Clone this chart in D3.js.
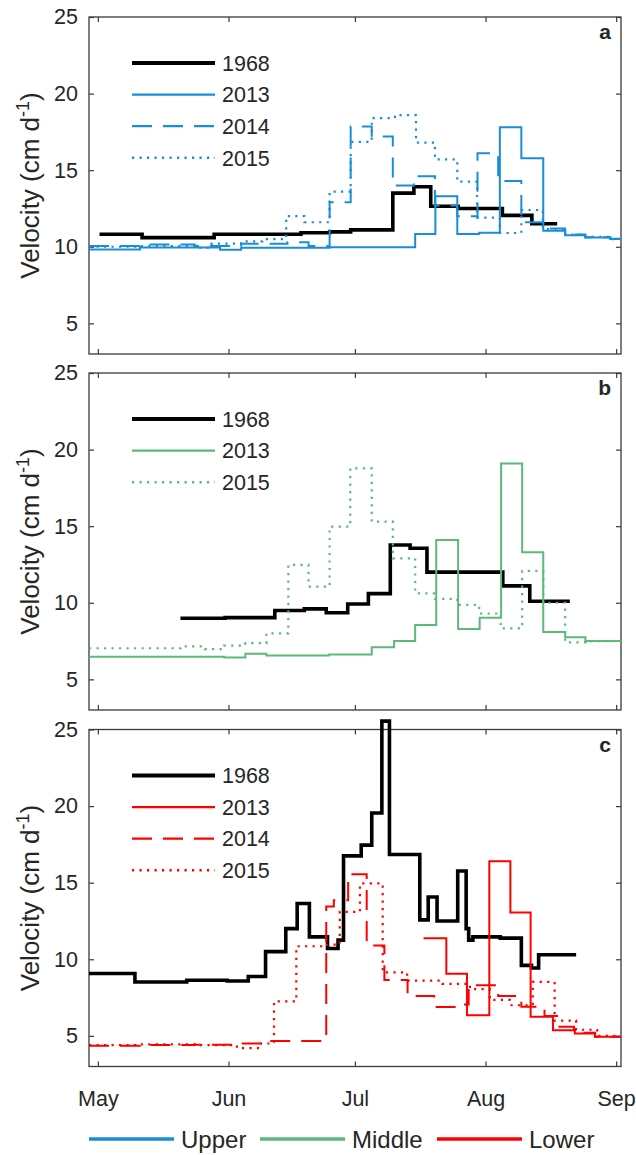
<!DOCTYPE html>
<html>
<head>
<meta charset="utf-8">
<script src="https://cdn.jsdelivr.net/npm/d3@7"></script>
<style>
  html, body { margin: 0; padding: 0; background: #ffffff; }
  svg { display: block; }
  text { font-family: "Liberation Sans", Arial, Helvetica, sans-serif; fill: #262626; }
</style>
</head>
<body>
<svg id="chart" width="636" height="1155"></svg>
<script>
// ---------------- data ----------------
const monthLabels = ["May", "Jun", "Jul", "Aug", "Sep"];
const yTickValues = [5, 10, 15, 20, 25];
const panelLetters = ["a", "b", "c"];
const zoneNames = ["Upper", "Middle", "Lower"];
const yearNames = ["1968", "2013", "2014", "2015"];

// step series: days since 1 May at which each step starts (last entry = end of last step), velocity in cm/d
// Upper (panel a)
const upper1968Days = [0.4, 10.5, 27.6, 48.2, 55, 60, 70, 75, 79, 85.5, 96, 103, 109];
const upper1968Vel  = [10.82, 10.6, 10.82, 10.92, 10.97, 11.1, 13.5, 13.92, 12.65, 12.5, 12.05, 11.5];
const upper2013Days = [-2.1, 10, 29, 34, 55, 75.3, 80.1, 85.3, 90.5, 95.4, 100.5, 105.7, 110.9, 115.7, 121.6, 124.15];
const upper2013Vel  = [9.83, 9.95, 9.8, 9.93, 9.97, 10.84, 13.3, 10.84, 10.92, 17.8, 15.78, 11.05, 10.75, 10.6, 10.52];
const upper2014Days = [-2.1, 10, 23, 34, 45, 50, 55, 60, 65, 70, 75, 80, 85.3, 90.1, 95, 100.5, 105.7, 110.9, 115.7, 121.6, 124.15];
const upper2014Vel  = [10.05, 10.15, 10.05, 10.2, 10.3, 10.05, 12.9, 17.85, 17.2, 14.0, 14.6, 12.7, 12.0, 16.1, 14.3, 11.6, 11.2, 10.8, 10.62, 10.5];
const upper2015Days = [-2.1, 10, 23, 27, 34, 39, 44.7, 49, 55, 60, 65, 70.5, 75.5, 80, 85.3, 90, 95.4, 100.5, 105.6, 110.9, 115.7, 121.6, 124.15];
const upper2015Vel  = [10.0, 10.05, 9.95, 10.2, 10.35, 10.5, 12.0, 11.6, 13.6, 16.85, 18.4, 18.6, 16.8, 15.7, 14.25, 11.9, 10.9, 12.4, 11.15, 10.8, 10.65, 10.5];

// Middle (panel b)
const middle1968Days = [19.6, 30.2, 42, 49, 54.2, 59.3, 64.2, 69.4, 74.1, 78.1, 96.1, 102.5, 112];
const middle1968Vel  = [8.99, 9.03, 9.5, 9.6, 9.35, 9.92, 10.6, 13.77, 13.56, 12.0, 11.1, 10.1];
const middle2013Days = [-2.1, 30, 35, 40, 54.8, 65, 70.3, 75.3, 80.3, 85.5, 90.6, 95.7, 100.7, 105.7, 110.9, 115.7, 124.15];
const middle2013Vel  = [6.48, 6.42, 6.68, 6.55, 6.62, 7.1, 7.5, 8.55, 14.1, 8.29, 9.03, 19.1, 13.3, 8.1, 7.75, 7.5];
const middle2015Days = [-2.1, 19.6, 25.4, 30, 35, 40, 45.2, 50, 55, 59.9, 65, 70, 75.3, 80, 85.3, 90.5, 95.6, 100.7, 105.7, 110.9, 115.7, 124.15];
const middle2015Vel  = [7.03, 7.15, 6.98, 7.2, 7.36, 8.0, 12.47, 11.05, 14.97, 18.78, 15.3, 12.9, 10.62, 10.25, 9.86, 9.3, 8.33, 12.08, 10.0, 7.42, 7.5];

// Lower (panel c)
const lower1968Days = [-2.1, 8.8, 21.1, 30.7, 35.7, 39.8, 44.6, 47.3, 50.2, 54.5, 57, 58.3, 62.5, 65, 67.4, 69.2, 76.4, 78.4, 80.5, 85.4, 87.4, 88, 89, 95.5, 100.5, 102.9, 104.6, 113.5];
const lower1968Vel  = [9.07, 8.52, 8.63, 8.58, 8.88, 10.5, 12.0, 13.64, 11.46, 10.7, 11.25, 16.75, 17.45, 19.55, 25.55, 16.84, 12.57, 14.07, 12.5, 15.76, 12.0, 11.25, 11.46, 11.38, 9.6, 9.43, 10.3];
const lower2013Days = [77.3, 82.7, 87.6, 92.9, 97.9, 102.7, 108, 113.2, 118, 124.15];
const lower2013Vel  = [11.38, 9.05, 6.34, 16.4, 13.05, 6.25, 5.36, 5.15, 4.95];
const lower2014Days = [-2.1, 10, 23, 33, 40.5, 54.2, 56, 59.4, 63.8, 68, 73.5, 79.8, 85.4, 88, 95, 100.5, 106, 109, 113, 118, 124.15];
const lower2014Vel  = [4.35, 4.4, 4.42, 4.5, 4.66, 13.45, 13.86, 15.55, 10.9, 8.65, 7.6, 6.88, 7.05, 8.3, 7.6, 6.9, 6.3, 5.6, 5.2, 4.95];
const lower2015Days = [-2.1, 10, 23, 33, 38, 41.8, 47.1, 53, 57.4, 62.2, 67.6, 73.4, 81.8, 88.3, 93, 97.8, 103.2, 108.4, 113.5, 118.5, 124.15];
const lower2015Vel  = [4.4, 4.45, 4.4, 4.2, 4.5, 7.25, 10.85, 10.95, 13.1, 14.95, 9.15, 8.6, 8.4, 8.05, 7.35, 7.0, 8.52, 6.0, 5.4, 5.0];

// ---------------- styling / layout ----------------
const zoneColors = ["#1a8dd8", "#5cb97b", "#ff0000"];
const W = 636, H = 1155;
const left = 89, right = 621;
const panelTops = [17, 373, 729.5];
const panelH = 337;
const axisColor = "#3a3a3a";

const panels = [
  { series: [
      { year: "1968", days: upper1968Days, vel: upper1968Vel },
      { year: "2013", days: upper2013Days, vel: upper2013Vel },
      { year: "2014", days: upper2014Days, vel: upper2014Vel },
      { year: "2015", days: upper2015Days, vel: upper2015Vel } ] },
  { series: [
      { year: "1968", days: middle1968Days, vel: middle1968Vel },
      { year: "2013", days: middle2013Days, vel: middle2013Vel },
      { year: "2015", days: middle2015Days, vel: middle2015Vel } ] },
  { series: [
      { year: "1968", days: lower1968Days, vel: lower1968Vel },
      { year: "2013", days: lower2013Days, vel: lower2013Vel },
      { year: "2014", days: lower2014Days, vel: lower2014Vel },
      { year: "2015", days: lower2015Days, vel: lower2015Vel } ] }
];

function yearStyle(year, color) {
  if (year === "1968") return { stroke: "#000000", width: 3.6, dash: null, legendWidth: 4.2 };
  if (year === "2013") return { stroke: color, width: 2, dash: null, legendWidth: 2.2 };
  if (year === "2014") return { stroke: color, width: 2, dash: "20,11", legendWidth: 2.2 };
  return { stroke: color, width: 2.2, dash: "2.2,5.3", legendWidth: 2.4 };
}

const base = Date.UTC(2001, 4, 1);
const dayMs = 864e5;
const toDate = d => new Date(base + d * dayMs);

const x = d3.scaleUtc()
  .domain([toDate(-2.1), toDate(124.15)])
  .range([left, right]);
const monthTicks = monthLabels.map((m, i) => new Date(Date.UTC(2001, 4 + i, 1)));

const svg = d3.select("#chart");
svg.append("rect").attr("width", W).attr("height", H).attr("fill", "#fff");

panels.forEach((p, pi) => {
  const top = panelTops[pi];
  const bottom = top + panelH;
  const y = d3.scaleLinear().domain([3, 25]).range([bottom, top]);
  const g = svg.append("g");
  const color = zoneColors[pi];

  // axes (ticks inward)
  const axL = g.append("g").attr("transform", `translate(${left},0)`)
    .call(d3.axisLeft(y).tickValues(yTickValues).tickSize(-5).tickSizeOuter(0).tickPadding(11));
  const axR = g.append("g").attr("transform", `translate(${right},0)`)
    .call(d3.axisRight(y).tickValues(yTickValues).tickSize(-5).tickSizeOuter(0).tickFormat(""));
  const axT = g.append("g").attr("transform", `translate(0,${top})`)
    .call(d3.axisTop(x).tickValues(monthTicks).tickSize(-5).tickSizeOuter(0).tickFormat(""));
  const axB = g.append("g").attr("transform", `translate(0,${bottom})`)
    .call(d3.axisBottom(x).tickValues(monthTicks).tickSize(-5).tickSizeOuter(0).tickPadding(24)
      .tickFormat((d, i) => pi === 2 ? monthLabels[i] : ""));
  [axL, axR, axT, axB].forEach(a => {
    a.select(".domain").remove();
    a.selectAll("line").attr("stroke", axisColor).attr("stroke-width", 1.2);
    a.selectAll("text").attr("font-size", 21.5).attr("fill", "#262626")
      .attr("font-family", '"Liberation Sans", Arial, sans-serif');
  });

  // box
  g.append("rect").attr("x", left).attr("y", top).attr("width", right - left).attr("height", panelH)
    .attr("fill", "none").attr("stroke", axisColor).attr("stroke-width", 1.3);

  // series
  const line = d3.line().curve(d3.curveStepAfter).x(d => x(toDate(d[0]))).y(d => y(d[1]));
  p.series.forEach(s => {
    const pts = s.days.map((d, i) => [d, s.vel[Math.min(i, s.vel.length - 1)]]);
    const st = yearStyle(s.year, color);
    g.append("path").attr("d", line(pts)).attr("fill", "none")
      .attr("stroke", st.stroke).attr("stroke-width", st.width)
      .attr("stroke-dasharray", st.dash).attr("stroke-linejoin", "miter");
  });

  // panel legend
  p.series.forEach((s, i) => {
    const st = yearStyle(s.year, color);
    const ly = top + 46 + i * 31.6;
    g.append("line").attr("x1", 132).attr("x2", 215).attr("y1", ly).attr("y2", ly)
      .attr("stroke", st.stroke).attr("stroke-width", st.legendWidth)
      .attr("stroke-dasharray", st.dash);
    g.append("text").attr("x", 222).attr("y", ly).attr("dy", "0.36em")
      .attr("font-size", 21.5).text(s.year);
  });

  // panel letter
  g.append("text").attr("x", 611).attr("y", top + 22).attr("text-anchor", "end")
    .attr("font-size", 21).attr("font-weight", "bold").attr("fill", "#000").text(panelLetters[pi]);

  // y label
  const yl = g.append("text").attr("transform", `translate(39,${top + 168.5}) rotate(-90)`)
    .attr("text-anchor", "middle").attr("font-size", 26);
  yl.append("tspan").text("Velocity (cm d");
  yl.append("tspan").attr("font-size", 18).attr("dy", -10).text("-1");
  yl.append("tspan").attr("dy", 10).text(")");
});

// bottom legend (zones)
const legX = [89, 260, 437];
zoneNames.forEach((z, i) => {
  const ly = 1139;
  svg.append("line").attr("x1", legX[i]).attr("x2", legX[i] + 85).attr("y1", ly).attr("y2", ly)
    .attr("stroke", zoneColors[i]).attr("stroke-width", 3.5);
  svg.append("text").attr("x", legX[i] + 92).attr("y", ly).attr("dy", "0.36em")
    .attr("font-size", 24).text(z);
});
</script>
</body>
</html>
